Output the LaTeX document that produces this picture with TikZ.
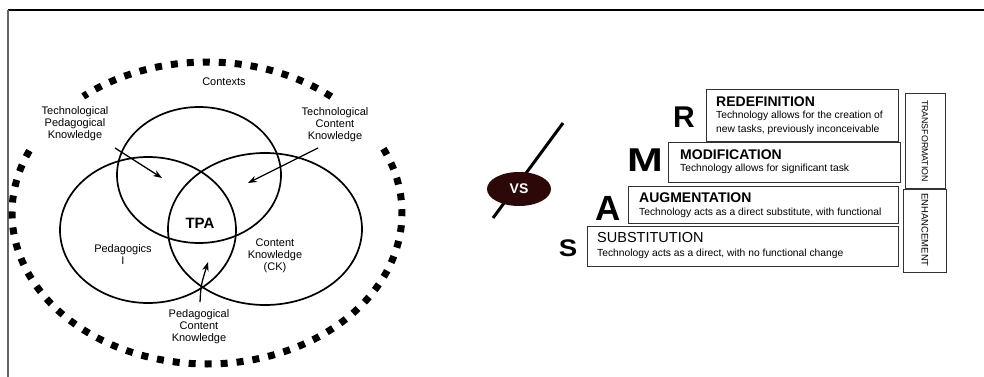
\documentclass[tikz,border=0pt]{standalone}
\usepackage{fontspec}
\setmainfont{Liberation Sans}
\usetikzlibrary{arrows.meta,shapes.geometric}
\definecolor{vsfill}{RGB}{45,8,8}
\definecolor{boxline}{RGB}{50,50,50}
\begin{document}
\begin{tikzpicture}[x=1pt,y=-1pt,
  venn/.style={line width=1.7pt},
  ctxring/.style={line width=7pt, dash pattern=on 7pt off 9pt},
  lbl/.style={font=\fontsize{11}{12}\selectfont, align=center, inner sep=0pt},
  arr/.style={line width=1.3pt, -{Stealth[length=9pt,width=6.5pt]}},
  samrbox/.style={draw=boxline, line width=1.4pt, anchor=north west, inner sep=0pt},
  ttl/.style={font=\bfseries\fontsize{14}{16}\selectfont, anchor=west, inner sep=0pt},
  dsc/.style={font=\fontsize{10.3}{12}\selectfont, anchor=west, inner sep=0pt},
  bigletter/.style={font=\bfseries, inner sep=0pt},
  side/.style={font=\fontsize{8.8}{10}\selectfont, rotate=-90, inner sep=0pt},
]
\useasboundingbox (0,0) rectangle (984,377);
% frame
\draw[line width=1.4pt, black] (984,10) -- (8,10);
\draw[line width=1.6pt, black!60] (8,10) -- (8,377);

% contexts ring
\draw[ctxring] plot[domain=155.6:385.6, samples=220, smooth] ({207+195*cos(\x)}, {213-151*sin(\x)});
\draw[ctxring] plot[domain=50.4:129.4, samples=90, smooth] ({207+195*cos(\x)}, {213-151*sin(\x)});

% venn circles
\draw[venn] (199,175) ellipse [x radius=82, y radius=68];
\draw[venn] (148,230) ellipse [x radius=88, y radius=73];
\draw[venn] (265,229) ellipse [x radius=97, y radius=76];

% labels
\node[lbl] (ctx) at (224,82) {Contexts};
\node[lbl] (tpk) at (75,124) {Technological\\Pedagogical\\Knowledge};
\node[lbl] (tck) at (335,125) {Technological\\Content\\Knowledge};
\node[lbl, font=\bfseries\fontsize{15}{17}\selectfont] (tpa) at (200,223) {TPA};
\node[lbl] (ped) at (123,255) {Pedagogics\\I};
\node[lbl] (ck) at (275,256) {Content\\Knowledge\\(CK)};
\node[lbl] (pck) at (199,327) {Pedagogical\\Content\\Knowledge};

% arrows
\coordinate (tpkS) at (115,148);
\coordinate (tpkE) at (162,178);
\coordinate (tckS) at (318,148);
\coordinate (tckE) at (248,183);
\coordinate (pckS) at (200,302);
\coordinate (pckE) at (208,262);
\draw[arr] (tpkS) -- (tpkE);
\draw[arr] (tckS) -- (tckE);
\draw[arr] (pckS) .. controls (201,285) .. (pckE);

% VS
\coordinate (vsA) at (563,123);
\coordinate (vsB) at (493,218);
\draw[line width=3pt] (vsA) -- (vsB);
\node[ellipse, fill=vsfill, minimum width=64pt, minimum height=34pt, inner sep=0pt,
      text=white, font=\bfseries\fontsize{14}{16}\selectfont] (vs) at (519,189) {VS};

% SAMR boxes
\node[samrbox, minimum width=192pt, minimum height=52pt] (rbox) at (706,89) {};
\node[samrbox, minimum width=232pt, minimum height=40pt] (mbox) at (668,142) {};
\node[samrbox, minimum width=270pt, minimum height=37pt] (abox) at (628,186) {};
\node[samrbox, minimum width=311pt, minimum height=40pt] (sbox) at (587,226) {};
\node[samrbox, minimum width=40pt, minimum height=95pt] (tbox) at (905,93) {};
\node[samrbox, minimum width=43pt, minimum height=83pt] (ebox) at (903,189) {};

\node[ttl] (rt) at (716,102) {REDEFINITION};
\node[dsc] (rd1) at (716,116) {Technology allows for the creation of};
\node[dsc] (rd2) at (716,130) {new tasks, previously inconceivable};
\node[ttl] (mt) at (680,155) {MODIFICATION};
\node[dsc] (md) at (680,169) {Technology allows for significant task};
\node[ttl] (at) at (639,198) {AUGMENTATION};
\node[dsc] (ad) at (639,213) {Technology acts as a direct substitute, with functional};
\node[ttl, font=\fontsize{14.5}{16}\selectfont] (st) at (597,238) {SUBSTITUTION};
\node[dsc] (sd) at (597,254) {Technology acts as a direct, with no functional change};

\node[side] (trans) at (925,141) {TRANSFORMATION};
\node[side, font=\fontsize{9.5}{10}\selectfont] (enh) at (925,230) {ENHANCEMENT};

\node[bigletter, font=\bfseries\fontsize{30}{32}\selectfont] (lr) at (684,117) {R};
\node[bigletter, font=\bfseries\fontsize{33}{35}\selectfont, xscale=1.3] (lm) at (645,160) {M};
\node[bigletter, font=\bfseries\fontsize{35}{37}\selectfont] (la) at (608,208) {A};
\node[bigletter, font=\bfseries\fontsize{24}{26}\selectfont, xscale=1.15] (ls) at (568,248) {S};
\end{tikzpicture}
\end{document}
